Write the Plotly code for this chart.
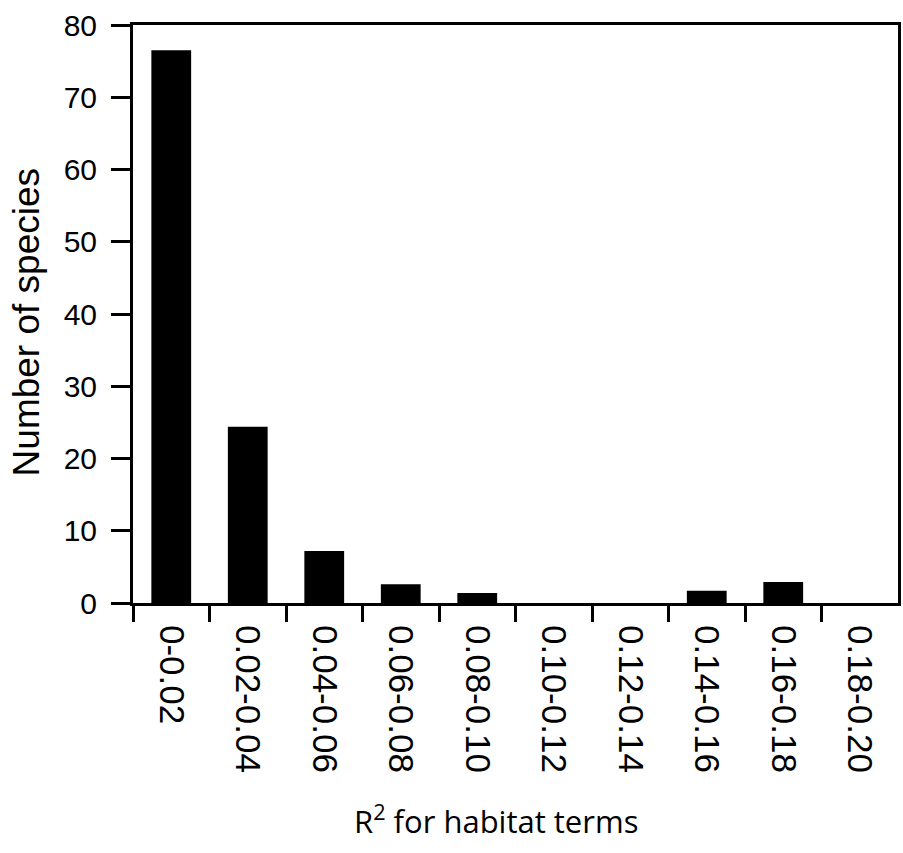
import plotly.graph_objects as go

categories = ["0-0.02", "0.02-0.04", "0.04-0.06", "0.06-0.08", "0.08-0.10",
              "0.10-0.12", "0.12-0.14", "0.14-0.16", "0.16-0.18", "0.18-0.20"]
counts = [76.5, 24.4, 7.2, 2.6, 1.4, 0, 0, 1.7, 2.9, 0]
y_ticks = [0, 10, 20, 30, 40, 50, 60, 70, 80]

FONT = "Liberation Sans, Arial, Helvetica, sans-serif"

fig = go.Figure()
fig.add_trace(go.Bar(x=categories, y=counts, marker=dict(color="black", line=dict(width=0)),
                     showlegend=False))
# invisible trace on overlay axis to hold boundary ticks
fig.add_trace(go.Scatter(x=[-0.5, 9.5], y=[0, 0], xaxis="x2", mode="markers",
                         marker=dict(opacity=0), showlegend=False, hoverinfo="skip"))

fig.update_layout(
    width=903, height=853,
    margin=dict(l=133, r=2, t=25, b=250),
    paper_bgcolor="white", plot_bgcolor="white",
    bargap=0.48,
    font=dict(family=FONT, color="black"),
    xaxis=dict(
        type="category", range=[-0.5, 9.5],
        showline=True, linecolor="black", linewidth=3, mirror=True,
        ticks="", tickangle=90, tickfont=dict(size=35, family=FONT),
        ticklabelstandoff=12, showgrid=False, zeroline=False,
    ),
    xaxis2=dict(
        overlaying="x", side="bottom", anchor="y", range=[-0.5, 9.5],
        tickmode="array", tickvals=[i - 0.5 for i in range(10)],
        showticklabels=False, ticks="outside", ticklen=18, tickwidth=3,
        tickcolor="black", showline=False, showgrid=False, zeroline=False,
    ),
    yaxis=dict(
        range=[0, 80], tickmode="array", tickvals=y_ticks,
        ticktext=[str(v) for v in y_ticks],
        showline=True, linecolor="black", linewidth=3, mirror=True,
        ticks="outside", ticklen=19, tickwidth=3, tickcolor="black",
        tickfont=dict(size=30, family=FONT), ticklabelstandoff=8,
        showgrid=False, zeroline=False,
    ),
    annotations=[
        dict(text="Number of species", x=26, y=322, xref="paper", yref="paper",
             xanchor="center", yanchor="middle",
             showarrow=False, textangle=-90, font=dict(size=37, family=FONT)),
        dict(text="R<sup>2</sup> for habitat terms", x=497, y=820, xref="paper", yref="paper",
             xanchor="center", yanchor="middle",
             showarrow=False, font=dict(size=31, family="Open Sans, sans-serif")),
    ],
)

# convert pixel annotation positions to paper coordinates
pw = 903 - 133 - 2
ph = 853 - 25 - 250
for a in fig.layout.annotations:
    px, py = a.x, a.y
    a.x = (px - 133) / pw
    a.y = (853 - 250 - py) / ph

fig.write_html("out.html")
